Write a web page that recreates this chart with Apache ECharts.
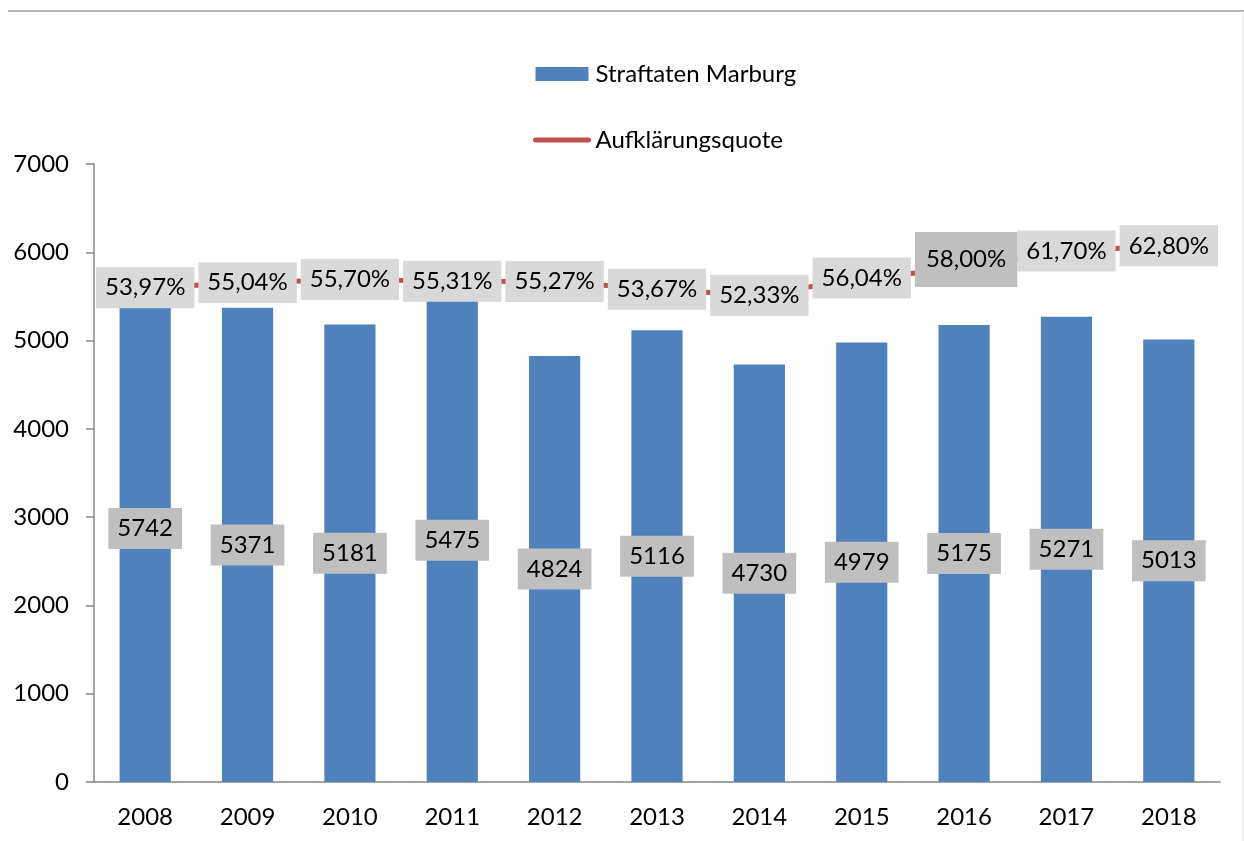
<!DOCTYPE html>
<html>
<head>
<meta charset="utf-8">
<script src="https://cdn.jsdelivr.net/npm/echarts@6/dist/echarts.min.js"></script>
<style>
  html, body { margin: 0; padding: 0; background: #fff; }
  #main { width: 1244px; height: 841px; }
</style>
</head>
<body>
<div id="main"></div>
<script>
// data
var years = ['2008', '2009', '2010', '2011', '2012', '2013', '2014', '2015', '2016', '2017', '2018'];
var straftaten = [5742, 5371, 5181, 5475, 4824, 5116, 4730, 4979, 5175, 5271, 5013];
var quote = [53.97, 55.04, 55.70, 55.31, 55.27, 53.67, 52.33, 56.04, 58.00, 61.70, 62.80];
var quoteLabels = ['53,97%', '55,04%', '55,70%', '55,31%', '55,27%', '53,67%', '52,33%', '56,04%', '58,00%', '61,70%', '62,80%'];

var FONT = 'Lato';
var FS = 24;

// label points for the line, 2016 gets the darker, taller box
var labelData = quote.map(function (v, i) {
  var item = { value: v };
  if (years[i] === '2016') {
    item.label = {
      backgroundColor: '#bfbfbf',
      padding: [21, 11, 4, 11],
      offset: [2, -9]
    };
  }
  return item;
});

var myChart = echarts.init(document.getElementById('main'));
window.onresize = function () {
  myChart.resize();
};

myChart.setOption({
  animation: false,
  textStyle: { fontFamily: FONT },
  graphic: [
    { type: 'line', shape: { x1: 8, y1: 11, x2: 1244, y2: 11 }, style: { stroke: '#9a9a9a', lineWidth: 1.5 } },
    { type: 'line', shape: { x1: 1243, y1: 11, x2: 1243, y2: 841 }, style: { stroke: '#e4e4e4', lineWidth: 1 } }
  ],
  legend: {
    orient: 'vertical',
    left: 528,
    top: 55,
    itemWidth: 53,
    itemHeight: 14,
    itemGap: 38,
    textStyle: { fontFamily: FONT, fontSize: FS, lineHeight: 28, color: '#000', padding: [0, 0, 0, 2] },
    data: [
      { name: 'Straftaten Marburg', icon: 'rect' },
      {
        name: 'Aufklärungsquote',
        itemStyle: { opacity: 0 },
        lineStyle: { width: 5, cap: 'round' }
      }
    ]
  },
  grid: { left: 94, right: 24, top: 164, bottom: 59 },
  xAxis: {
    type: 'category',
    data: years,
    axisLine: { lineStyle: { color: '#868686', width: 1.5 } },
    axisTick: { length: 9, lineStyle: { color: '#868686', width: 1.5 } },
    axisLabel: { fontFamily: FONT, fontSize: FS, color: '#000', margin: 23 }
  },
  yAxis: [
    {
      type: 'value',
      min: 0,
      max: 7000,
      interval: 1000,
      splitLine: { show: false },
      axisLine: { show: true, lineStyle: { color: '#868686', width: 1.5 } },
      axisTick: { show: true, length: 8, lineStyle: { color: '#868686', width: 1.5 } },
      axisLabel: {
        fontFamily: FONT, fontSize: FS, color: '#000', margin: 25,
        formatter: function (v) { return String(v); }
      }
    },
    {
      type: 'value',
      min: -50,
      max: 80,
      show: false,
      splitLine: { show: false }
    }
  ],
  series: [
    {
      name: 'Straftaten Marburg',
      type: 'bar',
      data: straftaten,
      barWidth: '50%',
      itemStyle: { color: '#4f81bd' },
      label: {
        show: true,
        position: 'inside',
        fontFamily: FONT,
        fontSize: FS,
        lineHeight: 30,
        color: '#000',
        backgroundColor: '#bfbfbf',
        padding: [6, 9, 5, 9]
      }
    },
    {
      name: 'Aufklärungsquote',
      type: 'line',
      yAxisIndex: 1,
      data: quote,
      symbol: 'none',
      z: 3,
      lineStyle: { color: '#c0504d', width: 5 },
      itemStyle: { color: '#c0504d' }
    },
    {
      // invisible points only carrying the percent labels
      name: 'Aufklärungsquote Werte',
      type: 'line',
      yAxisIndex: 1,
      data: labelData,
      symbol: 'circle',
      symbolSize: 1,
      z: 4,
      lineStyle: { width: 0, opacity: 0 },
      itemStyle: { color: 'rgba(0,0,0,0)' },
      label: {
        show: true,
        position: 'inside',
        fontFamily: FONT,
        fontSize: FS,
        lineHeight: 30,
        color: '#000',
        backgroundColor: '#d9d9d9',
        padding: [6, 9, 5, 9],
        formatter: function (p) { return quoteLabels[p.dataIndex]; }
      }
    }
  ]
});
</script>
</body>
</html>
